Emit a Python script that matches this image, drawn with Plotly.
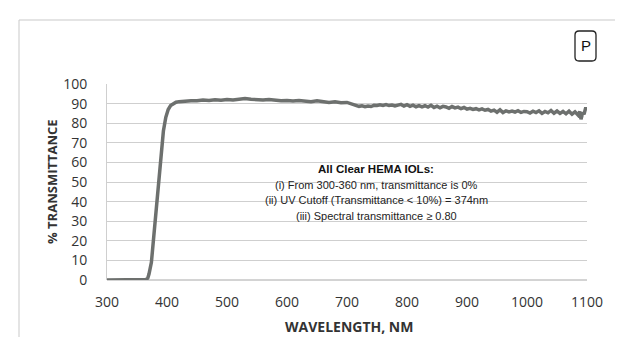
import plotly.graph_objects as go

# Wavelength (nm) and % transmittance
wavelength = [300, 320, 340, 360, 365, 368, 370, 374, 378, 382, 386, 390, 394, 398, 402, 406, 410, 415,
              420, 430, 440, 450, 460, 470, 480, 490, 500, 510, 520, 530, 540, 550, 560, 570, 580, 590,
              600, 610, 620, 630, 640, 650, 660, 670, 680, 690, 700,
              705, 710, 715, 720, 725, 730, 735, 740, 745, 750, 755, 760, 765, 770, 775, 780, 785, 790,
              795, 800, 805, 810, 815, 820, 825, 830, 835, 840, 845, 850, 855, 860, 865, 870, 875, 880,
              885, 890, 895, 900, 905, 910, 915, 920, 925, 930, 935, 940, 945, 950, 955, 960, 965, 970,
              975, 980, 985, 990, 995, 1000, 1005, 1010, 1015, 1020, 1025, 1030, 1035, 1040, 1045, 1050,
              1055, 1060, 1065, 1070, 1075, 1080, 1085, 1088, 1090, 1093, 1095, 1098, 1100]
transmittance = [0, 0, 0, 0, 0.2, 1.0, 3, 9, 22, 38, 52, 65, 76, 83, 87, 89, 90, 90.7,
                 91.0, 91.3, 91.5, 91.4, 91.8, 91.6, 92.0, 91.7, 92.1, 91.9, 92.3, 92.6, 92.2, 92.0, 91.8, 92.1, 91.7, 91.5,
                 91.6, 91.3, 91.6, 91.2, 91.0, 91.4, 90.8, 90.6, 90.9, 90.4, 90.6,
                 90.0, 89.6, 89.0, 88.6, 88.9, 88.4, 88.8, 88.5, 89.1, 89.0, 89.4, 89.1, 89.5, 89.0, 89.3, 88.8, 89.2, 89.6,
                 88.7, 89.4, 88.6, 89.2, 88.4, 89.0, 88.3, 88.9, 88.2, 89.1, 88.0, 88.7, 87.9, 88.6, 88.3, 87.6, 88.5, 87.8,
                 88.2, 87.4, 88.0, 87.2, 87.6, 87.0, 87.4, 86.8, 87.3, 86.6, 87.0, 86.2, 86.7, 85.6, 86.8, 85.4, 86.3, 85.8,
                 86.2, 85.7, 86.4, 85.5, 86.0, 85.9, 85.2, 86.1, 85.4, 86.3, 85.0, 86.0, 85.3, 86.5, 85.1, 86.2,
                 85.0, 86.0, 84.8, 86.1, 84.6, 85.8, 84.2, 86.0, 82.0, 85.5, 84.5, 88.0, 86.5]

x_ticks = [300, 400, 500, 600, 700, 800, 900, 1000, 1100]
y_ticks = [0, 10, 20, 30, 40, 50, 60, 70, 80, 90, 100]

note_title = "All Clear HEMA IOLs:"
note_lines = ["(i) From 300-360 nm, transmittance is 0%",
              "(ii) UV Cutoff (Transmittance < 10%) = 374nm",
              "(iii) Spectral transmittance \u2265 0.80"]

fig = go.Figure()
fig.add_trace(go.Scatter(x=wavelength, y=transmittance, mode="lines",
                         line=dict(color="#6d706e", width=3.5), hoverinfo="x+y", showlegend=False))

tick_font = dict(family="Open Sans, Liberation Sans, sans-serif", size=14, color="#333333")
fig.update_xaxes(range=[300, 1100], tickvals=x_ticks, showgrid=False, zeroline=False,
                 showline=False, ticks="outside", ticklen=9, tickcolor="rgba(0,0,0,0)",
                 tickfont=tick_font, fixedrange=True)
fig.update_yaxes(range=[0, 100], tickvals=y_ticks, showgrid=True, gridcolor="#cfcfcf", gridwidth=1,
                 zeroline=False, showline=True, linecolor="#cfcfcf", linewidth=1,
                 ticks="outside", ticklen=16, tickcolor="rgba(0,0,0,0)",
                 tickfont=tick_font, fixedrange=True)

# plot-area geometry helpers (paper coords)
L, R, T, B = 99, 44, 76, 65
W, H = 623, 337
pw, ph = W - L - R, H - T - B

def px(xp):
    return (xp - L) / pw

def py(yp):
    return (H - B - yp) / ph

shapes = []
# outer border
shapes.append(dict(type="rect", xref="paper", yref="paper", x0=px(11), x1=px(615), y0=py(12), y1=py(340),
                   line=dict(color="#c9c9c9", width=1), fillcolor="rgba(0,0,0,0)", layer="below"))
# baseline at 0
shapes.append(dict(type="line", xref="paper", yref="paper", x0=0, x1=1, y0=0, y1=0,
                   line=dict(color="#a8a8a8", width=1), layer="below"))
# rounded "P" box
x0, x1, y0, y1, r = 567, 588, 23, 53, 4
path = (f"M {px(x0 + r)},{py(y0)} L {px(x1 - r)},{py(y0)} Q {px(x1)},{py(y0)} {px(x1)},{py(y0 + r)} "
        f"L {px(x1)},{py(y1 - r)} Q {px(x1)},{py(y1)} {px(x1 - r)},{py(y1)} "
        f"L {px(x0 + r)},{py(y1)} Q {px(x0)},{py(y1)} {px(x0)},{py(y1 - r)} "
        f"L {px(x0)},{py(y0 + r)} Q {px(x0)},{py(y0)} {px(x0 + r)},{py(y0)} Z")
shapes.append(dict(type="path", xref="paper", yref="paper", path=path,
                   line=dict(color="#222222", width=1.3), fillcolor="white"))

note_font = dict(family="Liberation Sans, Arial, sans-serif", size=11, color="#222222")
annotations = [
    dict(xref="paper", yref="paper", x=px(577.5), y=py(38), text="P", showarrow=False,
         font=dict(family="Liberation Sans, Arial, sans-serif", size=15, color="#111111"),
         xanchor="center", yanchor="middle"),
    dict(xref="paper", yref="paper", x=px(341), y=py(318), text="<b>WAVELENGTH, NM</b>", showarrow=False,
         font=dict(family="Open Sans, Liberation Sans, sans-serif", size=14, color="#333333"),
         xanchor="center", yanchor="middle"),
    dict(xref="paper", yref="paper", x=px(44), y=py(174), text="<b>% TRANSMITTANCE</b>", showarrow=False,
         textangle=-90,
         font=dict(family="Open Sans, Liberation Sans, sans-serif", size=13, color="#333333"),
         xanchor="center", yanchor="middle"),
    dict(xref="paper", yref="paper", x=px(368), y=py(161), text="<b>" + note_title + "</b>",
         showarrow=False, xanchor="center", yanchor="middle",
         font=dict(family="Liberation Sans, Arial, sans-serif", size=11.5, color="#111111")),
]
for i, line_text in enumerate(note_lines):
    annotations.append(dict(xref="paper", yref="paper", x=px(368), y=py(176.5 + 15.5 * i),
                            text=line_text, showarrow=False, xanchor="center", yanchor="middle",
                            font=note_font))

fig.update_layout(width=W, height=H, margin=dict(l=L, r=R, t=T, b=B, pad=0),
                  paper_bgcolor="white", plot_bgcolor="white",
                  shapes=shapes, annotations=annotations, showlegend=False)

fig.write_html("out.html", config={"displayModeBar": False})
